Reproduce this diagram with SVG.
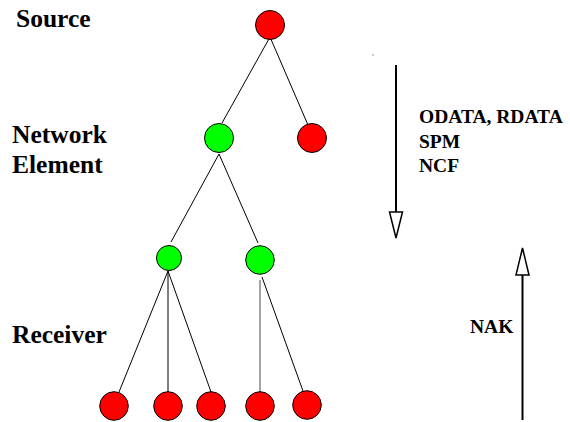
<svg xmlns="http://www.w3.org/2000/svg" width="570" height="422" viewBox="0 0 570 422">
<style>
.red{fill:#ff0000;stroke:#000;stroke-width:1}
.green{fill:#00ff00;stroke:#000;stroke-width:1}
.edge{stroke:#000;stroke-width:1;fill:none}
.arr{stroke:#000;stroke-width:2;fill:none}
.head{fill:#fff;stroke:#000;stroke-width:1.5}
.lbl{font-family:"Liberation Serif","Times New Roman",serif;font-weight:bold;fill:#000}
.big{font-size:25.5px}
.small{font-size:19.5px}
</style>
<rect width="570" height="422" fill="#fff"/>
<g id="labels">
<text class="lbl big" x="16" y="27">Source</text>
<text class="lbl big" x="12" y="143">Network</text>
<text class="lbl big" x="12" y="173">Element</text>
<text class="lbl big" x="12" y="343">Receiver</text>
<text class="lbl small" x="419" y="123">ODATA, RDATA</text>
<text class="lbl small" x="419" y="148">SPM</text>
<text class="lbl small" x="419" y="172">NCF</text>
<text class="lbl small" x="470" y="333">NAK</text>
</g>
<g id="connectors">
<line class="edge" x1="270" y1="37" x2="222" y2="123"/>
<line class="edge" x1="270" y1="37" x2="308" y2="125"/>
<line class="edge" x1="219" y1="154" x2="171" y2="242"/>
<line class="edge" x1="219" y1="154" x2="258" y2="243"/>
<line class="edge" x1="168" y1="271" x2="119" y2="392"/>
<line class="edge" x1="168" y1="271" x2="168" y2="392"/>
<line class="edge" x1="168" y1="271" x2="211" y2="392"/>
<line x1="260" y1="280" x2="260" y2="396" stroke="#666" stroke-width="1.2"/>
<line class="edge" x1="262" y1="277" x2="303" y2="391"/>
</g>
<g id="n-source"><circle class="red" cx="270" cy="25" r="14.5"/></g>
<g id="n-ne"><circle class="green" cx="219" cy="138" r="14.5"/></g>
<g id="n-red2"><circle class="red" cx="312" cy="138" r="14.5"/></g>
<g id="n-g1"><circle class="green" cx="169" cy="258" r="12.5"/></g>
<g id="n-g2"><circle class="green" cx="260" cy="260" r="14.3"/></g>
<g id="n-r1"><circle class="red" cx="114" cy="406" r="14.3"/></g>
<g id="n-r2"><circle class="red" cx="168" cy="406" r="14.3"/></g>
<g id="n-r3"><circle class="red" cx="211" cy="406" r="14.3"/></g>
<g id="n-r4"><circle class="red" cx="260" cy="406" r="14.3"/></g>
<g id="n-r5"><circle class="red" cx="307" cy="405" r="14.3"/></g>
<g id="arrows">
<line class="arr" x1="396" y1="65" x2="396" y2="212"/>
<polygon class="head" points="389.5,212 402.5,212 396,238"/>
<line class="arr" x1="522.5" y1="275" x2="522.5" y2="420"/>
<polygon class="head" points="516,275 529,275 522.5,248"/>
<rect x="372" y="54.5" width="2" height="1" fill="#999"/>
</g>
</svg>
